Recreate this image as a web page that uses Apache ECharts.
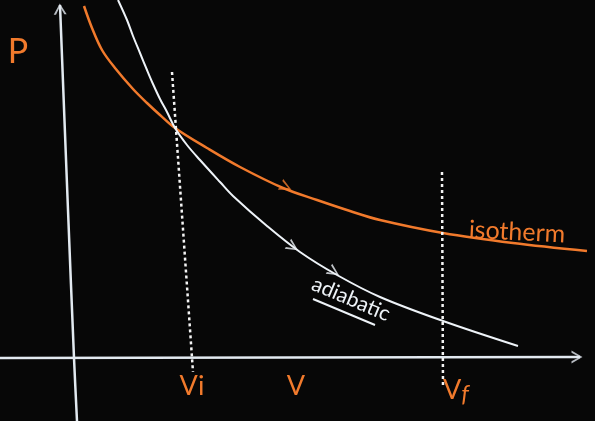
<!DOCTYPE html>
<html><head><meta charset="utf-8">
<script src="https://cdn.jsdelivr.net/npm/echarts@6/dist/echarts.min.js"></script>
<style>html,body{margin:0;padding:0;background:#070707;}#c{width:595px;height:421px;}</style>
</head><body><div id="c"></div>
<script>
// Curves, as [V, P]
const isotherm = [[0.14,3.51],[0.22,3.29],[0.32,3.07],[0.45,2.89],[0.63,2.68],[0.77,2.54],[0.90,2.42],[1.05,2.29],[1.37,2.09],[1.70,1.90],[2.13,1.69],[2.47,1.57],[2.80,1.46],[3.10,1.37],[3.73,1.24],[4.43,1.14],[5.17,1.06]];
const adiabatic = [[0.48,3.57],[0.57,3.37],[0.63,3.21],[0.70,3.04],[0.77,2.87],[0.83,2.73],[0.90,2.58],[0.97,2.45],[1.05,2.29],[1.17,2.12],[1.30,1.97],[1.50,1.75],[1.63,1.61],[1.97,1.31],[2.30,1.05],[2.67,0.82],[3.10,0.60],[3.73,0.36],[4.48,0.11]];
// Axes drawn on the board
const pAxis = [[-0.10,3.52],[-0.02,1.47],[0.04,-0.01],[0.07,-0.64]];
const vAxis = [[-0.70,-0.01],[5.10,0.00]];
// Dotted guides at Vi and Vf
const viGuide = [[1.02,2.85],[1.23,-0.15]];
const vfGuide = [[3.72,1.85],[3.73,-0.31]];
// underline of "adiabatic"
const underline = [[2.43,0.58],[3.05,0.32]];
// arrowheads along curves
const isothermArrows = [[2.16,1.70]];
const adiabaticArrows = [[2.23,1.10],[2.64,0.85]];
const axisArrows = [[-0.10,3.48],[5.07,0.00]];
// Labels
const axisLabels = {p:'P', v:'V', vi:'Vi', vf:'Vf'};
const curveLabels = ['isotherm','adiabatic'];

const OR = '#f17a2c', WH = '#eef3f8', AX = '#e2e9f0';
const CHEV = 'path://M0,0 L10,5 L0,10 L0,8.2 L7.2,5 L0,1.8 Z';
const FONT = 'Lato, "Noto Sans", sans-serif';

const chart = echarts.init(document.getElementById('c'), null, {renderer:'canvas'});
const seg = (a) => [{coord:a[0]},{coord:a[1]}];
chart.setOption({
  backgroundColor:'#070707',
  animation:false,
  grid:{left:0, top:0, width:595, height:421},
  xAxis:{type:'value', min:-0.70, max:5.25, show:false},
  yAxis:{type:'value', min:-0.64, max:3.57, show:false},
  series:[
    {type:'line', data:pAxis, symbol:'none', smooth:0.3, silent:true, lineStyle:{color:AX, width:2.5}},
    {type:'line', data:vAxis, symbol:'none', silent:true, lineStyle:{color:AX, width:2.5},
     markLine:{silent:true, symbol:'none', label:{show:false}, animation:false,
       lineStyle:{type:[3,3], color:'#f4f4f4', width:2.5},
       data:[seg(viGuide), seg(vfGuide)]}},
    {type:'line', name:curveLabels[0], data:isotherm, smooth:0.35, symbol:'none', clip:false, lineStyle:{color:OR, width:2.5}},
    {type:'line', name:curveLabels[1], data:adiabatic, smooth:0.35, symbol:'none', clip:false, lineStyle:{color:WH, width:2},
     markLine:{silent:true, symbol:'none', label:{show:false}, lineStyle:{type:'solid', color:WH, width:2}, data:[seg(underline)]}},
    {type:'scatter', symbol:CHEV, symbolSize:12, silent:true, clip:false,
     data:[
       ...isothermArrows.map(v=>({value:v, symbolRotate:-26, itemStyle:{color:OR}})),
       ...adiabaticArrows.map(v=>({value:v, symbolRotate:-33, itemStyle:{color:WH}})),
       {value:axisArrows[0], symbolRotate:92, symbolSize:[11,13], itemStyle:{color:AX}},
       {value:axisArrows[1], symbolRotate:0, symbolSize:[11,13], itemStyle:{color:AX}}
     ]}
  ],
  graphic:[
    {type:'text', x:18, y:52, style:{text:axisLabels.p, fill:OR, font:'34px '+FONT, align:'center', verticalAlign:'middle'}},
    {type:'text', x:192, y:386, style:{text:axisLabels.vi, fill:OR, font:'27px '+FONT, align:'center', verticalAlign:'middle'}},
    {type:'text', x:296, y:386, style:{text:axisLabels.v, fill:OR, font:'27px '+FONT, align:'center', verticalAlign:'middle'}},
    {type:'text', x:443, y:374, style:{text:'{a|V}{b|f}', fill:OR, font:'27px '+FONT, align:'left', verticalAlign:'top',
       rich:{a:{fill:OR, fontSize:27, fontFamily:FONT}, b:{fill:OR, fontSize:24, fontFamily:FONT, fontStyle:'italic', padding:[8,0,0,0]}}}},
    {type:'text', x:517, y:232, rotation:-0.05, style:{text:curveLabels[0], fill:OR, font:'25px '+FONT, align:'center', verticalAlign:'middle'}},
    {type:'text', x:351, y:299, rotation:-0.40, style:{text:curveLabels[1], fill:WH, font:'21px '+FONT, align:'center', verticalAlign:'middle'}}
  ]
});
</script></body></html>
